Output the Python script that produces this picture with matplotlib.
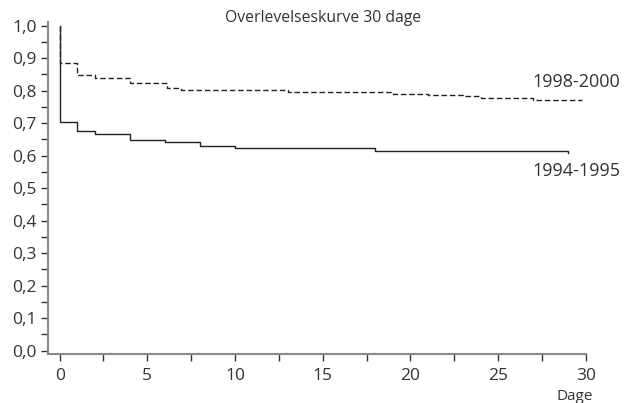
import numpy as np
import matplotlib
matplotlib.use('Agg')
import matplotlib.pyplot as plt
from matplotlib.ticker import MultipleLocator, FuncFormatter

# survival curves, step times (days) and survival fraction
days_9495 = [0, 0, 1, 2, 4, 6, 8, 10, 18, 29]
surv_9495 = [1.0, 0.702, 0.675, 0.666, 0.649, 0.641, 0.631, 0.623, 0.614, 0.608]

days_9800 = [0, 0, 1, 2, 4, 6.1, 6.9, 13, 19, 21, 23, 24, 27, 29.8]
surv_9800 = [1.0, 0.885, 0.848, 0.840, 0.824, 0.808, 0.801, 0.796, 0.791,
             0.786, 0.782, 0.777, 0.771, 0.771]

plt.rcParams['font.family'] = ['Open Sans', 'DejaVu Sans']

fig = plt.figure(figsize=(6.24, 4.03), dpi=100)
ax = fig.add_axes([0.077, 0.1216, 0.862, 0.823])

ax.step(days_9495, surv_9495, where='post', color='#222222', lw=1.0)
ax.step(days_9800, surv_9800, where='post', color='#222222', lw=1.0,
        dashes=(4, 2))

ax.set_xlim(-0.66, 30)
ax.set_ylim(-0.01, 1.01)

ax.xaxis.set_major_locator(MultipleLocator(5))
ax.xaxis.set_minor_locator(MultipleLocator(2.5))
ax.yaxis.set_major_locator(MultipleLocator(0.1))
ax.yaxis.set_minor_locator(MultipleLocator(0.05))
ax.yaxis.set_major_formatter(FuncFormatter(lambda v, p: ('%.1f' % v).replace('.', ',')))

for s in ['top', 'right']:
    ax.spines[s].set_visible(False)
for s in ['left', 'bottom']:
    ax.spines[s].set_color('#888888')
    ax.spines[s].set_linewidth(1.5)

ax.tick_params(which='both', color='#333333', width=1.0, length=5,
               labelsize=12.5, labelcolor='#333333')
ax.tick_params(axis='y', which='both', pad=3)
ax.tick_params(axis='x', which='both', pad=5)

fig.text(0.518, 0.955, 'Overlevelseskurve 30 dage', ha='center', va='center',
         fontsize=11.3, color='#333333')
fig.text(0.994, 0.797, '1998-2000', ha='right', va='center', fontsize=13, color='#333333')
fig.text(0.994, 0.576, '1994-1995', ha='right', va='center', fontsize=13, color='#333333')
fig.text(0.951, 0.015, 'Dage', ha='right', va='center', fontsize=11, color='#333333')

fig.savefig('out.png', dpi=100)
